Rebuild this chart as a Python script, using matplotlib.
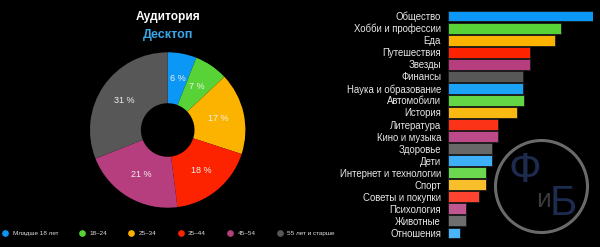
import matplotlib
matplotlib.use("Agg")
from matplotlib import pyplot as plt
from matplotlib.lines import Line2D
from matplotlib.patches import Circle

plt.rcParams['font.family'] = ['Liberation Sans', 'DejaVu Sans']

# pie data: audience age groups (desktop)
ages = ["Младше 18 лет", "18–24", "25–34", "35–44", "45–54", "55 лет и старше"]
shares = [6, 7, 17, 18, 21, 31]

# bar data: interest categories
topics = ["Общество", "Хобби и профессии", "Еда", "Путешествия", "Звезды", "Финансы",
          "Наука и образование", "Автомобили", "История", "Литература", "Кино и музыка",
          "Здоровье", "Дети", "Интернет и технологии", "Спорт", "Советы и покупки",
          "Психология", "Животные", "Отношения"]
scores = [145, 113, 107, 82, 82, 75, 75, 75.5, 69, 50, 50, 44, 44, 38, 38, 31, 18, 18, 12]

palette = ["#0a97f6", "#58d337", "#fbb300", "#fe2300", "#b63e7e", "#575757"]
bar_palette = palette + ["#1ba2f7", "#62d644", "#fab812", "#fd3317", "#bd4a88", "#686868",
                         "#3eb0f8", "#6bd84f", "#f9bf2a", "#fc4431", "#c05790", "#6e6e6e", "#49b4f7"]

W, H = 600, 247
fig = plt.figure(figsize=(6, 2.47), dpi=100, facecolor="black")

# watermark logo (behind everything)
bg = fig.add_axes([0, 0, 1, 1], zorder=0)
bg.set_xlim(0, W)
bg.set_ylim(H, 0)
bg.axis("off")
bg.add_patch(Circle((541.5, 186.5), 46, fill=False, ec="#6a6a6a", lw=2.2))
bg.text(525, 171, "Ф", color="#1c2b4e", fontsize=31, ha="center", va="center")
bg.text(543, 200, "и", color="#3a3a3a", fontsize=19, ha="center", va="center")
bg.text(563, 204, "Б", color="#1c2b4e", fontsize=30, ha="center", va="center")

# donut
R = 77.7
cx, cy = 167.7, 130
half = 100
pax = fig.add_axes([(cx - half) / W, (H - cy - half) / H, 2 * half / W, 2 * half / H], zorder=1)
pax.set_facecolor("none")
wedges, texts, autotexts = pax.pie(
    shares, colors=palette, startangle=90, counterclock=False,
    autopct=lambda p: f"{p:.0f} %", pctdistance=0.67,
    wedgeprops=dict(width=0.655, linewidth=0),
    textprops=dict(color="#f0f0f0", fontsize=6.5))
lim = half / R
pax.set_xlim(-lim, lim)
pax.set_ylim(-lim, lim)
pax.set_aspect("equal")

fig.text(168 / W, 1 - 17 / H, "Аудитория", color="white", fontsize=8.6, fontweight="bold",
         ha="center", va="center")
fig.text(168 / W, 1 - 35 / H, "Десктоп", color="#3aa8ea", fontsize=9, fontweight="bold",
         ha="center", va="center")

handles = [Line2D([], [], marker="o", ls="none", color=c, markersize=3.8) for c in palette]
leg = fig.legend(handles, ages, ncol=6, loc="center left", bbox_to_anchor=(1.4 / W, 1 - 233 / H),
                 frameon=False, fontsize=4.6, labelcolor="#dddddd", handlelength=1.1,
                 handletextpad=0.64, columnspacing=3.2, borderpad=0, borderaxespad=0)

# bars
bax = fig.add_axes([448 / W, (H - 239) / H, 145 / W, 229 / H], zorder=1)
bax.set_facecolor("none")
ypos = range(len(topics))
bax.barh(list(ypos), scores, height=0.9, color=bar_palette[:len(topics)],
         edgecolor="#1a1a1a", linewidth=0.6)
bax.set_xlim(0, max(scores))
bax.set_ylim(len(topics) - 0.5, -0.5)
bax.set_yticks(list(ypos))
bax.set_yticklabels(topics, color="#e8e8e8", fontsize=6.9)
bax.tick_params(axis="y", length=0, pad=5)
bax.set_xticks([])
for s in bax.spines.values():
    s.set_visible(False)

fig.savefig("out.png", dpi=100, facecolor="black")
